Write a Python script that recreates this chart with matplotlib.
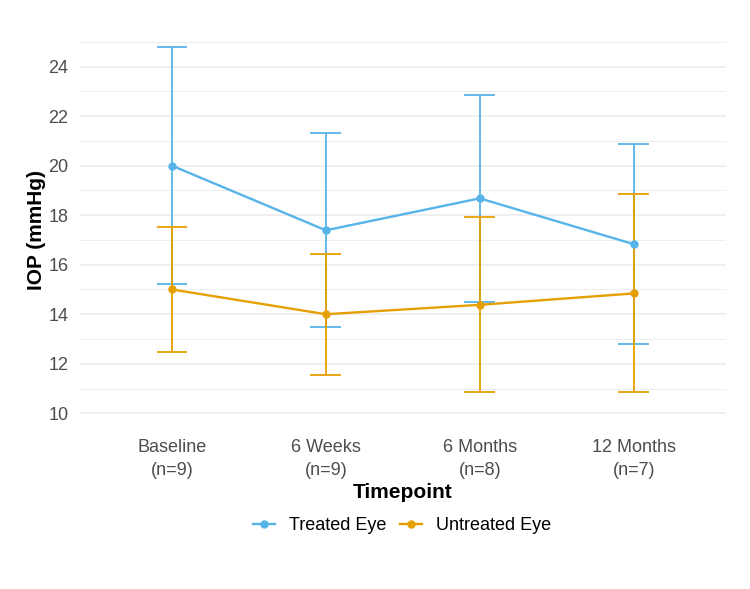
import matplotlib
matplotlib.use("Agg")
import matplotlib.pyplot as plt
import numpy as np

plt.rcParams['font.family'] = ['Liberation Sans', 'DejaVu Sans']

timepoints = ['Baseline\n(n=9)', '6 Weeks\n(n=9)', '6 Months\n(n=8)', '12 Months\n(n=7)']

treated_mean = [20.0, 17.39, 18.68, 16.83]
treated_sd = [4.78, 3.92, 4.17, 4.05]

untreated_mean = [15.0, 14.0, 14.38, 14.84]
untreated_sd = [2.51, 2.45, 3.54, 4.0]

blue = '#56B4E9'
orange = '#E69F00'

fig = plt.figure(figsize=(7.5, 5.89), dpi=100)
ax = fig.add_axes([79.6 / 750, 1 - 431.6 / 589, (726 - 79.6) / 750, (431.6 - 29) / 589])

x = np.arange(1, len(timepoints) + 1)

# error bars first, like ggplot layers
for m, s, c in [(treated_mean, treated_sd, blue), (untreated_mean, untreated_sd, orange)]:
    m = np.array(m)
    s = np.array(s)
    ax.vlines(x, m - s, m + s, color=c, lw=1.3, zorder=3)
    ax.hlines(m - s, x - 0.1, x + 0.1, color=c, lw=1.3, zorder=3)
    ax.hlines(m + s, x - 0.1, x + 0.1, color=c, lw=1.3, zorder=3)

ax.plot(x, treated_mean, color=blue, lw=1.7, marker='o', ms=5, label='Treated Eye', zorder=4)
ax.plot(x, untreated_mean, color=orange, lw=1.7, marker='o', ms=5, label='Untreated Eye', zorder=4)

ax.set_xlim(0.4, 4.6)
ax.set_ylim(9.26, 25.52)
ax.set_xticks(x)
ax.set_xticklabels(timepoints, linespacing=1.45)
ax.set_yticks(np.arange(10, 25, 2))
ax.set_yticks(np.arange(11, 26, 2), minor=True)

ax.grid(axis='y', which='major', color='#EBEBEB', lw=1.1, zorder=0)
ax.grid(axis='y', which='minor', color='#EBEBEB', lw=0.6, zorder=0)
for sp in ax.spines.values():
    sp.set_visible(False)
ax.tick_params(axis='both', which='both', length=0, labelsize=13, labelcolor='#4D4D4D')
ax.tick_params(axis='x', pad=5.5)
ax.tick_params(axis='y', pad=8)

ax.set_xlabel('Timepoint', fontsize=15, fontweight='bold', labelpad=3)
ax.set_ylabel('IOP (mmHg)', fontsize=15, fontweight='bold', labelpad=2)

leg = fig.legend(loc='center', bbox_to_anchor=(402 / 750, 1 - 526 / 589), ncol=2, frameon=False,
                 fontsize=13, handlelength=1.2, columnspacing=0.8, handletextpad=0.75)

fig.savefig('out.png', dpi=100)
